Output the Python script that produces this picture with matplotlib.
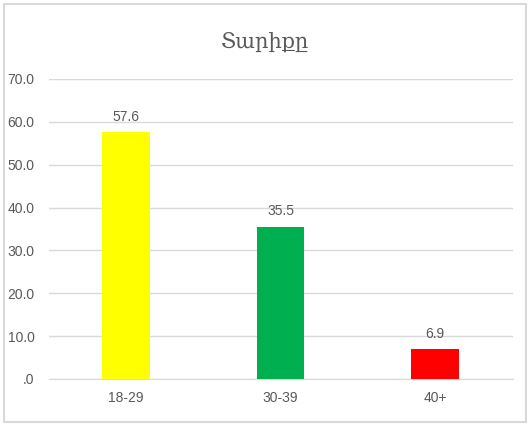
import matplotlib.pyplot as plt
from matplotlib.patches import Rectangle

categories = ["18-29", "30-39", "40+"]
values = [57.6, 35.5, 6.9]
colors = ["#FFFF00", "#00B050", "#FF0000"]
yticks = [0, 10, 20, 30, 40, 50, 60, 70]
title = "Տարիքը"

plt.rcParams['font.family'] = ['Liberation Sans', 'DejaVu Sans']
txt = "#595959"
grid = "#D9D9D9"


def fmt(v):
    return ".0" if v == 0 else "%.1f" % v


fig = plt.figure(figsize=(5.29, 4.24), dpi=100)
ax = fig.add_axes([48.5 / 529, 1 - 379 / 424, 464 / 529, 300 / 424])

x = range(len(categories))
ax.bar(x, values, width=0.31, color=colors, zorder=3)
for i, v in enumerate(values):
    ax.text(i, v + 2.0, "%.1f" % v, ha="center", va="bottom", fontsize=10, color=txt)

ax.set_xlim(-0.5, len(categories) - 0.5)
ax.set_ylim(0, 70)
ax.set_yticks(yticks)
ax.set_yticklabels([fmt(v) for v in yticks])
ax.set_xticks(list(x))
ax.set_xticklabels(categories)
ax.tick_params(length=0, labelsize=10, labelcolor=txt)
ax.tick_params(axis="y", pad=10)
ax.tick_params(axis="x", pad=9)
ax.yaxis.grid(True, color=grid, lw=1, zorder=0)
for s in ["left", "right", "top"]:
    ax.spines[s].set_visible(False)
ax.spines["bottom"].set_color(grid)

fig.text(0.5, 1 - 42 / 424, title, ha="center", va="center", fontsize=15,
         color=txt, family=["DejaVu Serif", "DejaVu Sans"])

fig.patches.append(Rectangle((4 / 529, 2 / 424), 522 / 529, 418 / 424, transform=fig.transFigure,
                             fill=False, edgecolor=grid, lw=1.5))

fig.savefig("out.png", dpi=100)
